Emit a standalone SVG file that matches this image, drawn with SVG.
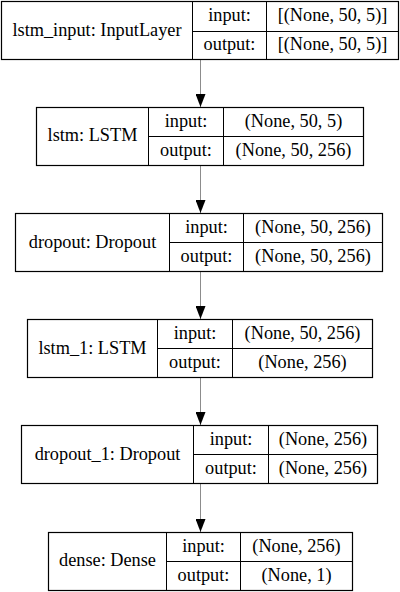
<svg xmlns="http://www.w3.org/2000/svg" width="400" height="592" viewBox="0 0 400 592">
<style>
.b{fill:#fff;stroke:#000;stroke-width:1.2}
.l{stroke:#000;stroke-width:1;fill:none}
text{font-family:"Liberation Serif","Times New Roman",serif;font-size:18.3px;text-anchor:middle;fill:#000}
.e{stroke:#8c8c8c;stroke-width:1;fill:none}
</style>
<defs>
<marker id="ah" markerWidth="13" markerHeight="10" refX="13" refY="5" orient="auto" markerUnits="userSpaceOnUse">
<path d="M0,0 L13,5 L0,10 Z" fill="#000"/>
</marker>
</defs>
<rect width="400" height="592" fill="#fff"/>
<g id="edges">
<line class="e" x1="200.5" y1="60" x2="200.5" y2="107" marker-end="url(#ah)"/>
<line class="e" x1="200.5" y1="166" x2="200.5" y2="213" marker-end="url(#ah)"/>
<line class="e" x1="200.5" y1="272" x2="200.5" y2="319" marker-end="url(#ah)"/>
<line class="e" x1="200.5" y1="378" x2="200.5" y2="425" marker-end="url(#ah)"/>
<line class="e" x1="200.5" y1="484" x2="200.5" y2="532" marker-end="url(#ah)"/>
</g>
<g id="lstm_input">
<rect class="b" x="1.5" y="1.5" width="397" height="58"/>
<line class="l" x1="192.5" y1="1.5" x2="192.5" y2="59.5"/>
<line class="l" x1="266.5" y1="1.5" x2="266.5" y2="59.5"/>
<line class="l" x1="192.5" y1="31.5" x2="398.5" y2="31.5"/>
<text x="97" y="36">lstm_input: InputLayer</text>
<text x="229.5" y="21">input:</text>
<text x="229.5" y="50">output:</text>
<text x="332.5" y="21">[(None, 50, 5)]</text>
<text x="332.5" y="50">[(None, 50, 5)]</text>
</g>
<g id="lstm">
<rect class="b" x="36.5" y="107.5" width="327" height="58"/>
<line class="l" x1="148.5" y1="107.5" x2="148.5" y2="165.5"/>
<line class="l" x1="223.5" y1="107.5" x2="223.5" y2="165.5"/>
<line class="l" x1="148.5" y1="136.5" x2="363.5" y2="136.5"/>
<text x="92.5" y="141">lstm: LSTM</text>
<text x="186" y="127">input:</text>
<text x="186" y="156">output:</text>
<text x="293.5" y="127">(None, 50, 5)</text>
<text x="293.5" y="156">(None, 50, 256)</text>
</g>
<g id="dropout">
<rect class="b" x="15.5" y="213.5" width="367" height="58"/>
<line class="l" x1="169.5" y1="213.5" x2="169.5" y2="271.5"/>
<line class="l" x1="243.5" y1="213.5" x2="243.5" y2="271.5"/>
<line class="l" x1="169.5" y1="242.5" x2="382.5" y2="242.5"/>
<text x="92.5" y="248">dropout: Dropout</text>
<text x="206.5" y="233">input:</text>
<text x="206.5" y="262">output:</text>
<text x="313" y="233">(None, 50, 256)</text>
<text x="313" y="262">(None, 50, 256)</text>
</g>
<g id="lstm_1">
<rect class="b" x="27.5" y="319.5" width="345" height="58"/>
<line class="l" x1="157.5" y1="319.5" x2="157.5" y2="377.5"/>
<line class="l" x1="232.5" y1="319.5" x2="232.5" y2="377.5"/>
<line class="l" x1="157.5" y1="348.5" x2="372.5" y2="348.5"/>
<text x="92.5" y="354">lstm_1: LSTM</text>
<text x="195" y="339">input:</text>
<text x="195" y="368">output:</text>
<text x="302.5" y="339">(None, 50, 256)</text>
<text x="302.5" y="368">(None, 256)</text>
</g>
<g id="dropout_1">
<rect class="b" x="21.5" y="425.5" width="356" height="58"/>
<line class="l" x1="193.5" y1="425.5" x2="193.5" y2="483.5"/>
<line class="l" x1="268.5" y1="425.5" x2="268.5" y2="483.5"/>
<line class="l" x1="193.5" y1="454.5" x2="377.5" y2="454.5"/>
<text x="107.5" y="460">dropout_1: Dropout</text>
<text x="231" y="445">input:</text>
<text x="231" y="474">output:</text>
<text x="323" y="445">(None, 256)</text>
<text x="323" y="474">(None, 256)</text>
</g>
<g id="dense">
<rect class="b" x="48.5" y="532.5" width="304" height="58"/>
<line class="l" x1="166.5" y1="532.5" x2="166.5" y2="590.5"/>
<line class="l" x1="240.5" y1="532.5" x2="240.5" y2="590.5"/>
<line class="l" x1="166.5" y1="561.5" x2="352.5" y2="561.5"/>
<text x="107.5" y="566">dense: Dense</text>
<text x="203.5" y="552">input:</text>
<text x="203.5" y="581">output:</text>
<text x="296.5" y="552">(None, 256)</text>
<text x="296.5" y="581">(None, 1)</text>
</g>
</svg>
